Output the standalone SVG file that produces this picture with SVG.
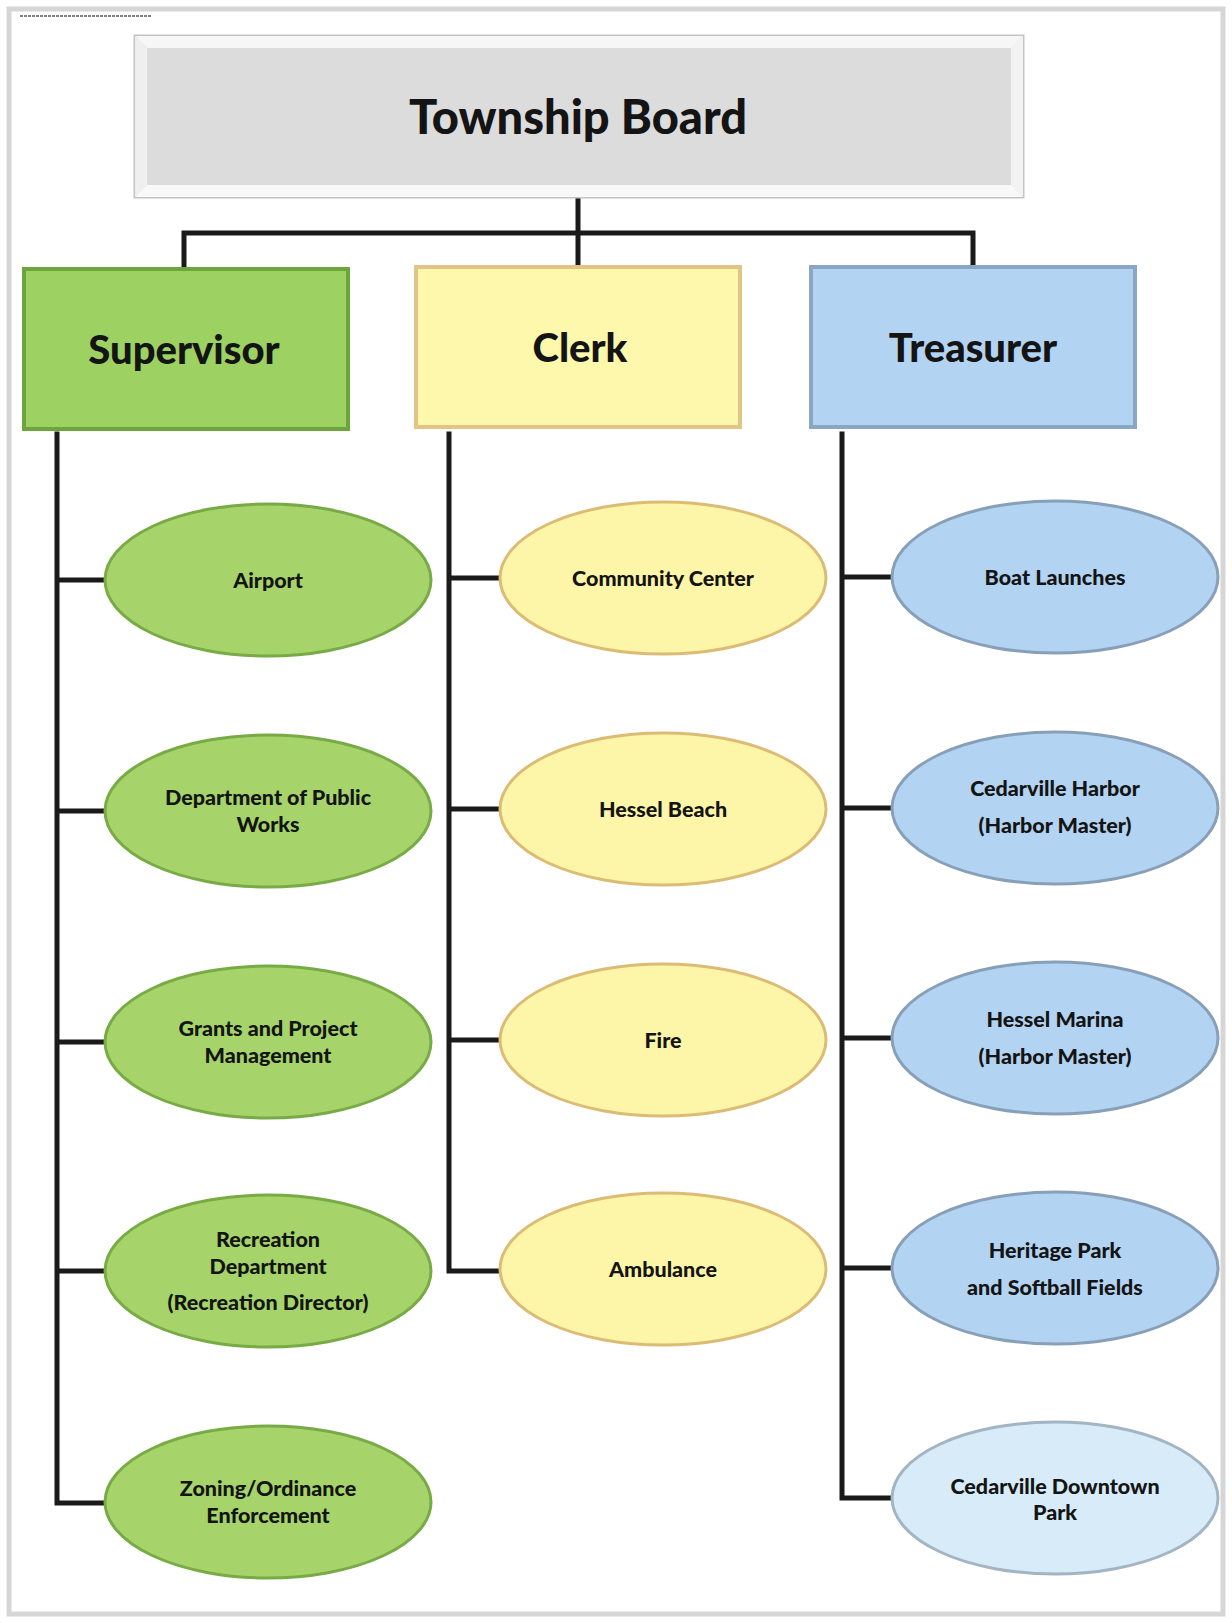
<svg xmlns="http://www.w3.org/2000/svg" width="1232" height="1623" viewBox="0 0 1232 1623">
<defs>
<style>
.t{font-family:Lato,"Open Sans","Liberation Sans",sans-serif;font-weight:900;fill:#141414;text-anchor:middle;dominant-baseline:central}
.big{font-size:47px}
.hd{font-size:40px}
.el{font-size:21.5px}
.line{stroke:#1a1a1a;stroke-width:5;fill:none;stroke-linecap:square}
.g{fill:#a6d46a;stroke:#78ab45;stroke-width:3}
.y{fill:#fdf6a8;stroke:#dcbc74;stroke-width:3}
.b{fill:#b3d3f2;stroke:#889fb8;stroke-width:3}
.bl{fill:#d7ecf8;stroke:#a3b4c2;stroke-width:3}
</style>
</defs>
<rect x="0" y="0" width="1232" height="1623" fill="#ffffff"/>
<rect x="9" y="9" width="1214" height="1605" fill="none" stroke="#d6d6d6" stroke-width="5"/>
<line x1="20" y1="16" x2="152" y2="16" stroke="#555" stroke-width="1.5" stroke-dasharray="3 1"/>

<g id="connectors">
<path class="line" d="M578 197 V233 M184 233 H973 M184 233 V267 M578 233 V267 M973 233 V267"/>
<path class="line" d="M57 434 V1503 H104 M57 580 H104 M57 811 H104 M57 1042 H104 M57 1271 H104"/>
<path class="line" d="M449 434 V1271 H500 M449 578 H500 M449 809 H500 M449 1040 H500"/>
<path class="line" d="M842 434 V1498 H892 M842 577 H892 M842 808 H892 M842 1038 H892 M842 1268 H892"/>
</g>

<g id="township-board">
<rect x="135" y="36" width="888" height="161" fill="#e9e9e9" stroke="#c4c4c4" stroke-width="3"/>
<polygon points="135,36 1023,36 1011,48 147,48" fill="#f6f6f6"/>
<polygon points="135,197 1023,197 1011,185 147,185" fill="#f8f8f8"/>
<polygon points="135,36 147,48 147,185 135,197" fill="#efefef"/>
<polygon points="1023,36 1011,48 1011,185 1023,197" fill="#f2f2f2"/>
<rect x="147" y="48" width="864" height="137" fill="#dcdcdc"/>
<text class="t big" x="578" y="116">Township Board</text>
</g>

<g id="supervisor">
<rect x="24" y="269" width="324" height="160" fill="#9dd263" stroke="#6ea43c" stroke-width="4"/>
<text class="t hd" x="184" y="349">Supervisor</text>
</g>
<g id="clerk">
<rect x="416" y="267" width="324" height="160" fill="#fdf8ab" stroke="#e2c586" stroke-width="4"/>
<text class="t hd" x="580" y="347">Clerk</text>
</g>
<g id="treasurer">
<rect x="811" y="267" width="324" height="160" fill="#b3d3f3" stroke="#8ba6c2" stroke-width="4"/>
<text class="t hd" x="973" y="347">Treasurer</text>
</g>

<g id="airport"><ellipse class="g" cx="268" cy="580" rx="163" ry="76"/><text class="t el" x="268" y="580">Airport</text></g>
<g id="dpw"><ellipse class="g" cx="268" cy="811" rx="163" ry="76"/><text class="t el" x="268" y="797">Department of Public</text><text class="t el" x="268" y="824">Works</text></g>
<g id="grants"><ellipse class="g" cx="268" cy="1042" rx="163" ry="76"/><text class="t el" x="268" y="1028">Grants and Project</text><text class="t el" x="268" y="1055">Management</text></g>
<g id="recreation"><ellipse class="g" cx="268" cy="1271" rx="163" ry="76"/><text class="t el" x="268" y="1239">Recreation</text><text class="t el" x="268" y="1266">Department</text><text class="t el" x="268" y="1302">(Recreation Director)</text></g>
<g id="zoning"><ellipse class="g" cx="268" cy="1502" rx="163" ry="76"/><text class="t el" x="268" y="1488">Zoning/Ordinance</text><text class="t el" x="268" y="1515">Enforcement</text></g>

<g id="community-center"><ellipse class="y" cx="663" cy="578" rx="163" ry="76"/><text class="t el" x="663" y="578">Community Center</text></g>
<g id="hessel-beach"><ellipse class="y" cx="663" cy="809" rx="163" ry="76"/><text class="t el" x="663" y="809">Hessel Beach</text></g>
<g id="fire"><ellipse class="y" cx="663" cy="1040" rx="163" ry="76"/><text class="t el" x="663" y="1040">Fire</text></g>
<g id="ambulance"><ellipse class="y" cx="663" cy="1269" rx="163" ry="76"/><text class="t el" x="663" y="1269">Ambulance</text></g>

<g id="boat-launches"><ellipse class="b" cx="1055" cy="577" rx="163" ry="76"/><text class="t el" x="1055" y="577">Boat Launches</text></g>
<g id="cedarville-harbor"><ellipse class="b" cx="1055" cy="808" rx="163" ry="76"/><text class="t el" x="1055" y="788">Cedarville Harbor</text><text class="t el" x="1055" y="825">(Harbor Master)</text></g>
<g id="hessel-marina"><ellipse class="b" cx="1055" cy="1038" rx="163" ry="76"/><text class="t el" x="1055" y="1019">Hessel Marina</text><text class="t el" x="1055" y="1056">(Harbor Master)</text></g>
<g id="heritage-park"><ellipse class="b" cx="1055" cy="1268" rx="163" ry="76"/><text class="t el" x="1055" y="1250">Heritage Park</text><text class="t el" x="1055" y="1287">and Softball Fields</text></g>
<g id="cedarville-downtown-park"><ellipse class="bl" cx="1055" cy="1498" rx="163" ry="76"/><text class="t el" x="1055" y="1486">Cedarville Downtown</text><text class="t el" x="1055" y="1512">Park</text></g>
</svg>
